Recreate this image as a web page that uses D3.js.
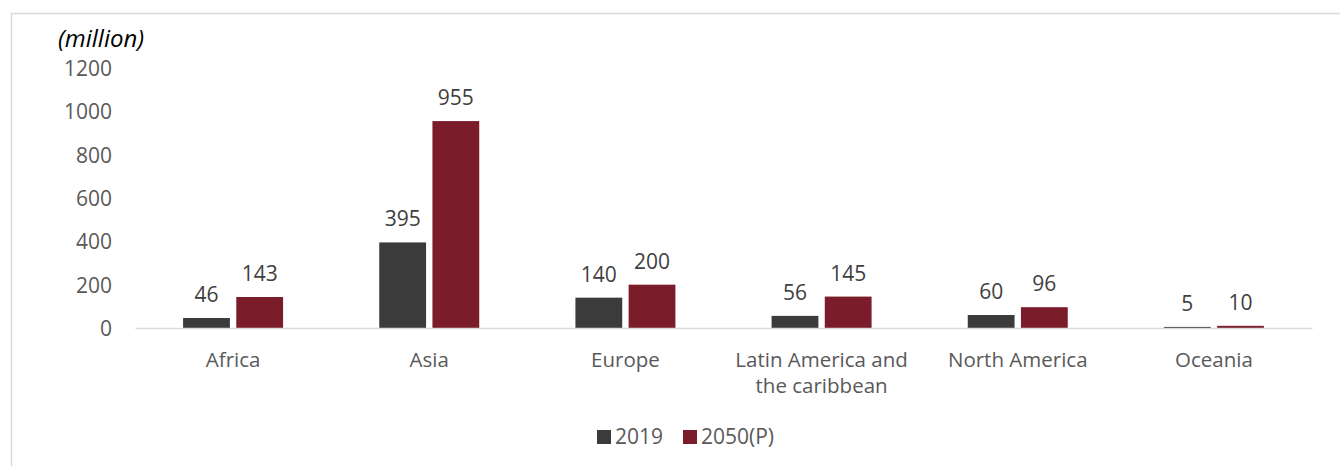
<!DOCTYPE html>
<html>
<head>
<meta charset="utf-8">
<script src="https://cdn.jsdelivr.net/npm/d3@7"></script>
<style>
  body { margin: 0; background: #fff; }
  svg text { font-family: "Open Sans", "Noto Sans", sans-serif; }
</style>
</head>
<body>
<svg id="chart" width="1340" height="466"></svg>
<script>
// Data
const regions = ['Africa', 'Asia', 'Europe', 'Latin America and|the caribbean', 'North America', 'Oceania'];
const values2019 = [46, 395, 140, 56, 60, 5];
const values2050 = [143, 955, 200, 145, 96, 10];
const seriesNames = ['2019', '2050(P)'];
const seriesColors = ['#3b3b3b', '#7b1c2a'];
const yTicks = [0, 200, 400, 600, 800, 1000, 1200];

const svg = d3.select('#chart');

// Outer frame (top and left edges visible)
svg.append('path')
  .attr('d', 'M11.5,466 V13.5 H1340')
  .attr('fill', 'none')
  .attr('stroke', '#d9d9d9')
  .attr('stroke-width', 1.5);

const x0 = 135, x1 = 1312, yTop = 68, yBase = 328;

const xScale = d3.scaleBand().domain(regions).range([x0, x1]);
const xInner = d3.scaleBand().domain(seriesNames)
  .range([xScale.bandwidth() / 2 - 50, xScale.bandwidth() / 2 + 50])
  .paddingInner(0.12);
const yScale = d3.scaleLinear().domain([0, 1200]).range([yBase, yTop]);

// Y axis labels
const yAxis = d3.axisLeft(yScale).tickValues(yTicks).tickSize(0).tickPadding(0)
  .tickFormat(d3.format('d'));
const yG = svg.append('g').attr('transform', 'translate(112,0)').call(yAxis);
yG.select('.domain').remove();
yG.selectAll('text')
  .style('font-size', '21px')
  .attr('fill', '#595959')
  .attr('dy', '0.35em');

// Unit label
svg.append('text')
  .attr('x', 58).attr('y', 47)
  .style('font-size', '24px')
  .style('font-style', 'italic')
  .attr('fill', '#000')
  .text('(million)');

// Bars
const data = regions.map((r, i) => ({ region: r, vals: [values2019[i], values2050[i]] }));
const groups = svg.append('g').selectAll('g')
  .data(data).join('g')
  .attr('transform', d => `translate(${xScale(d.region)},0)`);

groups.selectAll('rect')
  .data(d => d.vals.map((v, j) => ({ v, s: seriesNames[j], c: seriesColors[j] })))
  .join('rect')
  .attr('x', d => xInner(d.s))
  .attr('width', xInner.bandwidth())
  .attr('y', d => yScale(d.v))
  .attr('height', d => yBase - yScale(d.v))
  .attr('fill', d => d.c);

groups.selectAll('text.val')
  .data(d => d.vals.map((v, j) => ({ v, s: seriesNames[j] })))
  .join('text')
  .attr('class', 'val')
  .attr('x', d => xInner(d.s) + xInner.bandwidth() / 2)
  .attr('y', d => yScale(d.v) - 16)
  .attr('text-anchor', 'middle')
  .style('font-size', '21px')
  .attr('fill', '#404040')
  .text(d => d.v);

// X axis
const xAxis = d3.axisBottom(xScale).tickSize(0).tickPadding(0).tickFormat('');
const xG = svg.append('g').attr('transform', `translate(0,${yBase})`).call(xAxis);
xG.select('.domain').attr('stroke', '#d9d9d9').attr('stroke-width', 1.5);

xG.selectAll('.tick').each(function(d) {
  const lines = d.split('|');
  const t = d3.select(this).append('text')
    .attr('text-anchor', 'middle')
    .attr('fill', '#595959')
    .style('font-size', '20.5px');
  lines.forEach((l, i) => {
    t.append('tspan').attr('x', 0).attr('y', 39 + i * 26).text(l);
  });
});

// Legend
const legend = svg.append('g').attr('transform', 'translate(597,437)');
const items = legend.selectAll('g').data(seriesNames).join('g')
  .attr('transform', (d, i) => `translate(${i === 0 ? 0 : 86},0)`);
items.append('rect')
  .attr('x', 0).attr('y', -7).attr('width', 14).attr('height', 14)
  .attr('fill', (d, i) => seriesColors[i]);
items.append('text')
  .attr('x', 18).attr('y', 0).attr('dy', '0.35em')
  .style('font-size', '21px')
  .attr('fill', '#595959')
  .text(d => d);
</script>
</body>
</html>
